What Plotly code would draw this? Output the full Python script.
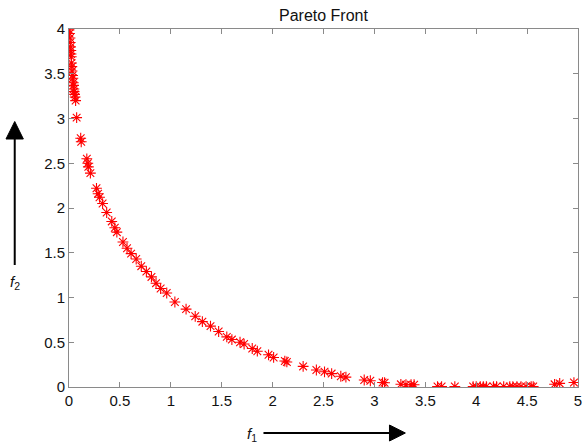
import plotly.graph_objects as go

f1 = [0.0, 0.005, 0.01, 0.012, 0.015, 0.018, 0.02, 0.022, 0.025, 0.028,
      0.03, 0.035, 0.038, 0.042, 0.045, 0.048, 0.05, 0.055, 0.06, 0.065,
      0.075, 0.115, 0.12, 0.175, 0.185, 0.19, 0.21, 0.27, 0.286, 0.30, 0.33,
      0.37, 0.42, 0.45, 0.47, 0.53, 0.57, 0.61, 0.66, 0.71, 0.76, 0.81,
      0.855, 0.90, 0.96, 1.04, 1.15, 1.24, 1.31, 1.39, 1.47, 1.55, 1.60,
      1.68, 1.72, 1.80, 1.85, 1.96, 2.01, 2.12, 2.14, 2.30, 2.43, 2.51,
      2.58, 2.67, 2.72, 2.90, 2.96, 3.08, 3.10, 3.26, 3.31, 3.36, 3.39,
      3.62, 3.66, 3.79, 3.97, 4.0, 4.04, 4.07, 4.10, 4.17, 4.20, 4.27,
      4.33, 4.36, 4.40, 4.44, 4.49, 4.54, 4.56, 4.77, 4.82, 4.96]
f2 = [3.99, 3.95, 3.90, 3.85, 3.80, 3.76, 3.72, 3.69, 3.62, 3.58,
      3.53, 3.48, 3.45, 3.40, 3.37, 3.33, 3.30, 3.27, 3.24, 3.20,
      3.01, 2.78, 2.74, 2.55, 2.50, 2.46, 2.39, 2.22, 2.16, 2.12, 2.05,
      1.95, 1.85, 1.78, 1.73, 1.62, 1.55, 1.49, 1.43, 1.35, 1.29, 1.23,
      1.16, 1.10, 1.05, 0.95, 0.87, 0.79, 0.73, 0.68, 0.62, 0.56, 0.53,
      0.50, 0.48, 0.43, 0.40, 0.36, 0.33, 0.29, 0.28, 0.23, 0.19, 0.17,
      0.15, 0.12, 0.11, 0.078, 0.07, 0.05, 0.048, 0.03, 0.025, 0.025, 0.025,
      0.005, 0.005, 0.005, 0.005, 0.005, 0.005, 0.005, 0.005, 0.005, 0.005, 0.005,
      0.005, 0.005, 0.005, 0.005, 0.005, 0.005, 0.005, 0.03, 0.04, 0.05]

x_ticks = [0, 0.5, 1, 1.5, 2, 2.5, 3, 3.5, 4, 4.5, 5]
x_labels = ["0", "0.5", "1", "1.5", "2", "2.5", "3", "3.5", "4", "4.5", "5"]
y_ticks = [0, 0.5, 1, 1.5, 2, 2.5, 3, 3.5, 4]
y_labels = ["0", "0.5", "1", "1.5", "2", "2.5", "3", "3.5", "4"]

W, H = 587, 446
L, R, T, B = 69, 5, 29, 59
PW, PH = W - L - R, H - T - B


def px(x):
    return (x - L) / PW


def py(y):
    return (H - B - y) / PH


fig = go.Figure()
fig.add_trace(go.Scatter(
    x=f1, y=f2, mode="markers",
    marker=dict(symbol="asterisk", size=9, color="rgb(255,0,0)",
                line=dict(color="rgb(255,0,0)", width=1.1)),
    showlegend=False, hoverinfo="skip"))

axis_common = dict(showgrid=False, zeroline=False, showline=True,
                   linecolor="#8a8a8a", linewidth=1, mirror="ticks",
                   ticks="inside", ticklen=5, tickcolor="#8a8a8a",
                   tickfont=dict(family="Liberation Sans, Arial", size=15,
                                 color="#111111"))

fig.update_xaxes(range=[0, 5], tickvals=x_ticks, ticktext=x_labels,
                 **axis_common)
fig.update_yaxes(range=[0, 4], tickvals=y_ticks, ticktext=y_labels,
                 **axis_common)

shapes = [
    # f1 arrow
    dict(type="line", xref="paper", yref="paper",
         x0=px(265), y0=py(433), x1=px(394), y1=py(433),
         line=dict(color="black", width=2)),
    dict(type="path", xref="paper", yref="paper",
         path=f"M {px(392)},{py(425)} L {px(408)},{py(433)} L {px(392)},{py(441)} Z",
         fillcolor="black", line=dict(color="black", width=1)),
    # f2 arrow
    dict(type="line", xref="paper", yref="paper",
         x0=px(14.3), y0=py(265), x1=px(14.3), y1=py(137),
         line=dict(color="black", width=2)),
    dict(type="path", xref="paper", yref="paper",
         path=f"M {px(5.5)},{py(139)} L {px(14.3)},{py(121.5)} L {px(23)},{py(139)} Z",
         fillcolor="black", line=dict(color="black", width=1)),
]

annotations = [
    dict(text="Pareto Front", xref="paper", yref="paper", x=0.5, y=1,
         xanchor="center", yanchor="bottom", yshift=3, showarrow=False,
         font=dict(family="Liberation Sans, Arial", size=16, color="#111111")),
    dict(text="<i>f</i><sub>1</sub>", xref="paper", yref="paper",
         x=px(253), y=py(434), xanchor="center", yanchor="middle",
         showarrow=False,
         font=dict(family="Liberation Sans, Arial", size=15, color="#111111")),
    dict(text="<i>f</i><sub>2</sub>", xref="paper", yref="paper",
         x=px(15), y=py(282), xanchor="center", yanchor="middle",
         showarrow=False,
         font=dict(family="Liberation Sans, Arial", size=15, color="#111111")),
]

fig.update_layout(width=W, height=H,
                  margin=dict(l=L, r=R, t=T, b=B, pad=0),
                  paper_bgcolor="white", plot_bgcolor="white",
                  shapes=shapes, annotations=annotations)

fig.write_html("out.html",
               config={"displayModeBar": False, "staticPlot": True},
               post_script="document.body.style.margin='0';"
                           "document.body.style.overflow='hidden';")
